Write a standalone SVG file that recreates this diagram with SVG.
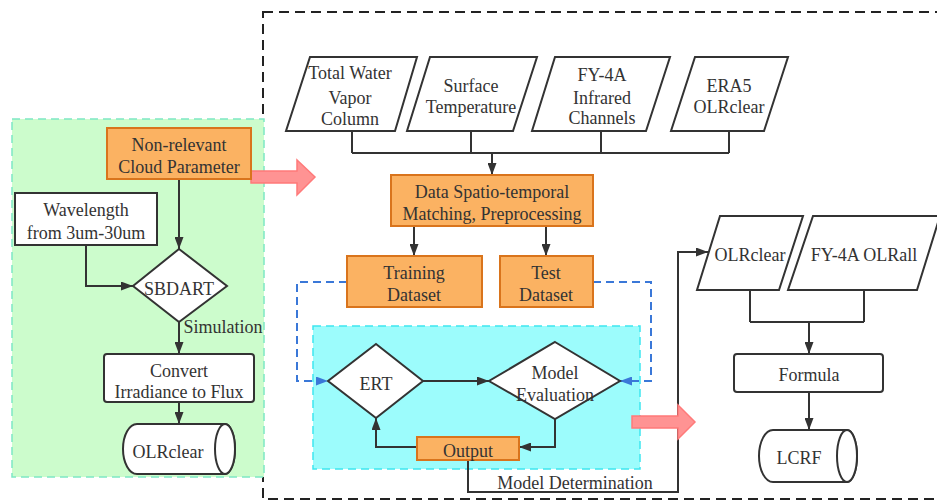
<svg xmlns="http://www.w3.org/2000/svg" width="937" height="502" viewBox="0 0 937 502">
<style>
text{font-family:"Liberation Serif","Times New Roman",serif;font-size:18px;fill:#333;text-anchor:middle}
.n{fill:#fff;stroke:#333;stroke-width:2}
.o{fill:#fbb262;stroke:#d9741c;stroke-width:2}
.c{fill:none;stroke:#333;stroke-width:2}
.b{fill:none;stroke:#3a78d8;stroke-width:2;stroke-dasharray:8 5}
.r{fill:#ff9393;stroke:#ff7a7a;stroke-width:1.5}
</style>
<defs>
<marker id="a" viewBox="0 0 12 9" refX="12" refY="4.5" markerWidth="12" markerHeight="9" markerUnits="userSpaceOnUse" orient="auto"><path d="M0,0 L12,4.5 L0,9 Z" fill="#333"/></marker>
<marker id="ab" viewBox="0 0 12 9" refX="12" refY="4.5" markerWidth="12" markerHeight="9" markerUnits="userSpaceOnUse" orient="auto"><path d="M0,0 L12,4.5 L0,9 Z" fill="#3a78d8"/></marker>
</defs>
<rect width="937" height="502" fill="#fff"/>
<rect x="263" y="12" width="700" height="487" fill="none" stroke="#222" stroke-width="2" stroke-dasharray="10 6"/>
<rect id="green-panel" x="12" y="119" width="252" height="358" fill="#ccfccc" stroke="#7de8c4" stroke-width="1.5" stroke-dasharray="8 5"/>
<rect id="cyan-panel" x="313" y="326" width="327" height="143" fill="#9cfcfc" stroke="#3ee6f0" stroke-width="1.5" stroke-dasharray="8 5"/>

<g id="connectors">
<path class="c" d="M179,179 V249" marker-end="url(#a)"/>
<path class="c" d="M86,245 V286 H133" marker-end="url(#a)"/>
<path class="c" d="M179,322 V354" marker-end="url(#a)"/>
<path class="c" d="M179,402 V424" marker-end="url(#a)"/>
<path class="c" d="M352,131 V153 M471,131 V153 M601,131 V153 M729,131 V153 M352,153 H729"/>
<path class="c" d="M492,153 V175" marker-end="url(#a)"/>
<path class="c" d="M414,226 V256" marker-end="url(#a)"/>
<path class="c" d="M546,226 V256" marker-end="url(#a)"/>
<path class="b" d="M347,282 H297 V381 H328" marker-end="url(#ab)"/>
<path class="b" d="M593,282 H651 V381 H620" marker-end="url(#ab)"/>
<path class="c" d="M423,381 H489" marker-end="url(#a)"/>
<path class="c" d="M555,419 V447 H519" marker-end="url(#a)"/>
<path class="c" d="M417,447 H376 V418" marker-end="url(#a)"/>
<path class="c" d="M468,460 V492 H678 V252 H708" marker-end="url(#a)"/>
<path class="c" d="M750,290 V322 M864,290 V322 M750,322 H864"/>
<path class="c" d="M809,322 V354" marker-end="url(#a)"/>
<path class="c" d="M809,392 V430" marker-end="url(#a)"/>
<path class="r" d="M251,171 H297 V160 L315,177 L297,195 V183 H251 Z"/>
<path class="r" d="M632,416 H678 V405 L695,422 L678,439 V428 H632 Z"/>
<text x="223" y="333">Simulation</text>
<text x="575" y="489">Model Determination</text>
</g>

<g id="non-relevant">
<rect class="o" x="107" y="128" width="144" height="51"/>
<text x="179" y="151">Non-relevant</text>
<text x="179" y="173">Cloud Parameter</text>
</g>
<g id="wavelength">
<rect class="n" x="15" y="193" width="142" height="52"/>
<text x="86" y="216">Wavelength</text>
<text x="86" y="239">from 3um-30um</text>
</g>
<g id="sbdart">
<path class="n" d="M179,249 L227,286 L179,322 L133,286 Z"/>
<text x="179" y="295">SBDART</text>
</g>
<g id="convert">
<rect class="n" x="104" y="354" width="150" height="48" rx="3"/>
<text x="179" y="377">Convert</text>
<text x="179" y="398">Irradiance to Flux</text>
</g>
<g id="olrclear-left">
<path class="n" d="M137,424 H225 A10 25 0 0 1 225,474 H137 A14 25 0 0 1 137,424 Z"/>
<ellipse class="n" cx="225" cy="449" rx="10" ry="25"/>
<text x="168" y="458">OLRclear</text>
</g>

<g id="tw">
<path class="n" d="M310,57 H417 L395,131 H286 Z"/>
<text x="350" y="79">Total Water</text>
<text x="350" y="104">Vapor</text>
<text x="350" y="125">Column</text>
</g>
<g id="st">
<path class="n" d="M430,57 H537 L513,131 H407 Z"/>
<text x="471" y="92">Surface</text>
<text x="471" y="113">Temperature</text>
</g>
<g id="fy">
<path class="n" d="M555,57 H670 L646,131 H532 Z"/>
<text x="602" y="81">FY-4A</text>
<text x="602" y="104">Infrared</text>
<text x="602" y="124">Channels</text>
</g>
<g id="era5">
<path class="n" d="M695,57 H788 L764,131 H671 Z"/>
<text x="729" y="92">ERA5</text>
<text x="729" y="113">OLRclear</text>
</g>
<g id="data">
<rect class="o" x="391" y="175" width="202" height="51"/>
<text x="492" y="198">Data Spatio-temporal</text>
<text x="492" y="220">Matching, Preprocessing</text>
</g>
<g id="training">
<rect class="o" x="347" y="256" width="135" height="51"/>
<text x="414" y="279">Training</text>
<text x="414" y="301">Dataset</text>
</g>
<g id="test">
<rect class="o" x="500" y="256" width="93" height="51"/>
<text x="546" y="279">Test</text>
<text x="546" y="301">Dataset</text>
</g>
<g id="ert">
<path class="n" d="M376,344 L423,381 L376,418 L328,381 Z"/>
<text x="376" y="390">ERT</text>
</g>
<g id="model-eval">
<path class="n" d="M555,342 L620,381 L555,419 L489,381 Z"/>
<text x="555" y="379">Model</text>
<text x="555" y="401">Evaluation</text>
</g>
<g id="output">
<rect class="o" x="417" y="437" width="102" height="23"/>
<text x="468" y="457">Output</text>
</g>
<g id="olrclear-right">
<path class="n" d="M720,216 H803 L779,290 H697 Z"/>
<text x="750" y="261">OLRclear</text>
</g>
<g id="olrall">
<path class="n" d="M813,216 H940 L917,290 H788 Z"/>
<text x="864" y="261">FY-4A OLRall</text>
</g>
<g id="formula">
<rect class="n" x="734" y="354" width="149" height="38" rx="3"/>
<text x="809" y="381">Formula</text>
</g>
<g id="lcrf">
<path class="n" d="M773,430 H847 A10 26 0 0 1 847,482 H773 A14 26 0 0 1 773,430 Z"/>
<ellipse class="n" cx="847" cy="456" rx="10" ry="26"/>
<text x="799" y="464">LCRF</text>
</g>
</svg>
